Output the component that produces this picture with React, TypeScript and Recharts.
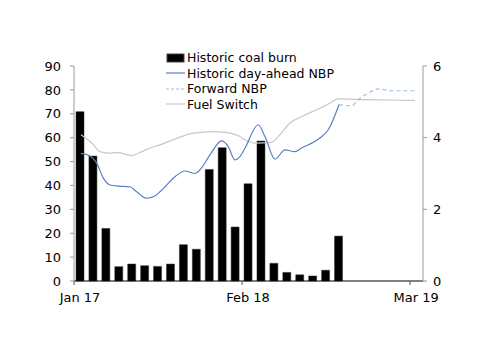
import { Bar, ComposedChart, Line, XAxis, YAxis } from "recharts";

const months = [
  "Jan 17", "Feb 17", "Mar 17", "Apr 17", "May 17", "Jun 17", "Jul 17", "Aug 17", "Sep 17",
  "Oct 17", "Nov 17", "Dec 17", "Jan 18", "Feb 18", "Mar 18", "Apr 18", "May 18", "Jun 18",
  "Jul 18", "Aug 18", "Sep 18", "Oct 18", "Nov 18", "Dec 18", "Jan 19", "Feb 19", "Mar 19",
];
const tickLabels = ["Jan 17", "Feb 18", "Mar 19"];

// monthly coal burn, Jan 17 - Sep 18
const coalBurn = [
  70.9, 52.3, 22.0, 6.0, 7.1, 6.4, 6.1, 7.1, 15.2, 13.3, 46.7, 55.8, 22.6, 40.7, 58.6, 7.4, 3.6,
  2.6, 2.1, 4.5, 18.8,
];

// [month offset from Jan 17, value]
const historicNbp: [number, number][] = [
  [0.54, 3.56], [1.24, 3.49], [1.76, 3.29], [2.27, 2.87], [2.78, 2.68], [3.43, 2.65],
  [4.33, 2.63], [4.85, 2.49], [5.62, 2.31], [6.26, 2.37], [6.65, 2.49], [7.04, 2.63],
  [7.81, 2.91], [8.58, 3.07], [9.36, 3.0], [9.74, 3.1], [10.52, 3.52], [11.42, 3.91],
  [11.93, 3.75], [12.45, 3.38], [12.84, 3.47], [13.23, 3.71], [14.25, 4.36], [14.77, 4.03],
  [15.55, 3.4], [16.32, 3.66], [17.09, 3.61], [17.61, 3.71], [19.02, 3.99], [19.67, 4.22],
  [20.5, 4.92],
];

const forwardNbp: [number, number][] = [
  [20.5, 4.92], [21.48, 4.89], [21.99, 5.06], [22.76, 5.24], [23.53, 5.36], [24.57, 5.31],
  [26.37, 5.31],
];

const fuelSwitch: [number, number][] = [
  [0.54, 4.08], [1.37, 3.85], [2.01, 3.61], [2.65, 3.57], [3.43, 3.58], [4.46, 3.5],
  [5.24, 3.61], [5.88, 3.71], [6.65, 3.8], [7.29, 3.89], [8.33, 4.03], [9.1, 4.12],
  [10.9, 4.17], [12.2, 4.12], [12.84, 4.03], [13.23, 3.94], [14.0, 3.85], [15.29, 3.87],
  [15.93, 4.08], [16.71, 4.41], [17.61, 4.59], [19.02, 4.82], [19.67, 4.94], [20.5, 5.08],
  [22.51, 5.06], [26.37, 5.04],
];

const legendItems = [
  { name: "Historic coal burn", kind: "bar", color: "#000000" },
  { name: "Historic day-ahead NBP", kind: "line", color: "#5b7fc4" },
  { name: "Forward NBP", kind: "dash", color: "#9dc0e8" },
  { name: "Fuel Switch", kind: "line", color: "#c8c8c8" },
];

const FONT = "'DejaVu Sans', sans-serif";

const barData = months.map((month, i) => ({ month, coal: coalBurn[i] ?? null }));
const toPoints = (arr: [number, number][]) => arr.map(([m, v]) => ({ m, v }));

function ChartLegend() {
  return (
    <div
      style={{
        position: "absolute",
        left: 166,
        top: 50,
        fontFamily: FONT,
        fontSize: 12.5,
        color: "#000",
        lineHeight: "15.5px",
      }}
    >
      {legendItems.map((item) => (
        <div key={item.name} style={{ display: "flex", alignItems: "center", gap: 2 }}>
          <svg width={19} height={10}>
            {item.kind === "bar" ? (
              <rect x={1} y={1} width={17} height={8} fill="#000" stroke="#444" />
            ) : (
              <line
                x1={0}
                y1={5}
                x2={19}
                y2={5}
                stroke={item.color}
                strokeWidth={1.2}
                strokeDasharray={item.kind === "dash" ? "3 2" : undefined}
              />
            )}
          </svg>
          <span>{item.name}</span>
        </div>
      ))}
    </div>
  );
}

export default function App() {
  const ticks = tickLabels.map((t) => months.indexOf(t));
  return (
    <div style={{ position: "fixed", left: 0, top: 0, width: 500, height: 354, background: "#fff" }}>
      <ComposedChart
        width={500}
        height={354}
        data={barData}
        margin={{ top: 66, right: 0, bottom: 43, left: 0 }}
        style={{ fontFamily: FONT }}
      >
        <XAxis
          xAxisId="cat"
          dataKey="month"
          type="category"
          hide
          height={0}
          padding={{ left: 0, right: 0 }}
        />
        <XAxis
          xAxisId="num"
          dataKey="m"
          type="number"
          domain={[0, 27]}
          ticks={ticks}
          interval={0}
          tickFormatter={(v: number) => months[v]}
          allowDataOverflow
          height={30}
          axisLine={{ stroke: "#000" }}
          tickLine={{ stroke: "#555" }}
          tickSize={4}
          tickMargin={8}
          tick={{ fill: "#000", fontSize: 13, dx: 6 }}
        />
        <YAxis
          yAxisId="left"
          domain={[0, 90]}
          ticks={[0, 10, 20, 30, 40, 50, 60, 70, 80, 90]}
          interval={0}
          width={74}
          axisLine={{ stroke: "#999" }}
          tickLine={{ stroke: "#999" }}
          tickSize={4}
          tickMargin={9}
          tick={{ fill: "#000", fontSize: 13 }}
        />
        <YAxis
          yAxisId="right"
          orientation="right"
          domain={[0, 6]}
          ticks={[0, 2, 4, 6]}
          interval={0}
          width={77}
          axisLine={{ stroke: "#999" }}
          tickLine={{ stroke: "#999" }}
          tickSize={4}
          tickMargin={6}
          tick={{ fill: "#000", fontSize: 13 }}
        />
        <Bar
          xAxisId="cat"
          yAxisId="left"
          dataKey="coal"
          barSize={8}
          fill="#000"
          stroke="#333"
          strokeWidth={0.5}
          isAnimationActive={false}
        />
        <Line
          xAxisId="num"
          yAxisId="right"
          data={toPoints(fuelSwitch)}
          dataKey="v"
          type="monotone"
          stroke="#c8c8c8"
          strokeWidth={1.2}
          dot={false}
          activeDot={false}
          isAnimationActive={false}
        />
        <Line
          xAxisId="num"
          yAxisId="right"
          data={toPoints(forwardNbp)}
          dataKey="v"
          type="monotone"
          stroke="#9dc0e8"
          strokeWidth={1.2}
          strokeDasharray="4 3"
          dot={false}
          activeDot={false}
          isAnimationActive={false}
        />
        <Line
          xAxisId="num"
          yAxisId="right"
          data={toPoints(historicNbp)}
          dataKey="v"
          type="monotone"
          stroke="#5b7fc4"
          strokeWidth={1.2}
          dot={false}
          activeDot={false}
          isAnimationActive={false}
        />
      </ComposedChart>
      <ChartLegend />
    </div>
  );
}
